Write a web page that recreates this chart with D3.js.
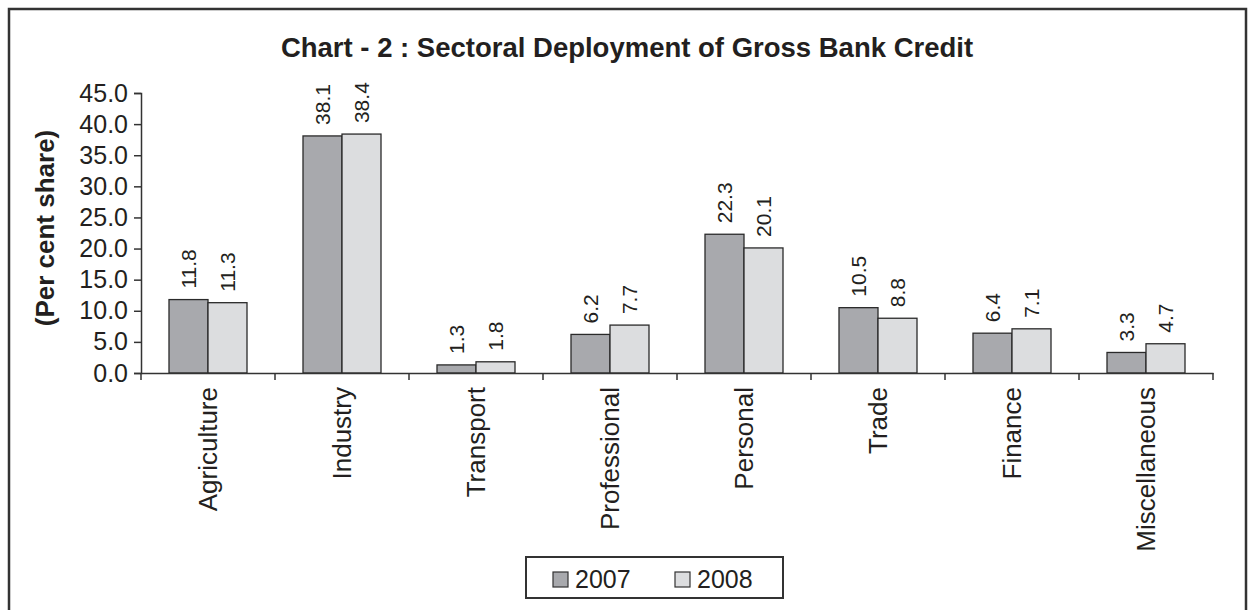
<!DOCTYPE html>
<head>
  <meta charset="utf-8">
  <script src="https://d3js.org/d3.v7.min.js"></script>
  <style>
    body { margin: 0; background: #fff; }
    svg { display: block; font-family: "Liberation Sans", Arial, sans-serif; }
  </style>
</head>
<body>
  <svg width="1250" height="610"></svg>
  <script>
    // data
    var categories = ["Agriculture", "Industry", "Transport", "Professional", "Personal", "Trade", "Finance", "Miscellaneous"];
    var series = ["2007", "2008"];
    var values2007 = [11.8, 38.1, 1.3, 6.2, 22.3, 10.5, 6.4, 3.3];
    var values2008 = [11.3, 38.4, 1.8, 7.7, 20.1, 8.8, 7.1, 4.7];
    var yTicks = [0, 5, 10, 15, 20, 25, 30, 35, 40, 45];
    var colors = {"2007": "#a8a9ad", "2008": "#dcdddf"};
    var ink = "#231f20";

    var rows = categories.map(function(c, i) {
      return {cat: c, vals: [{s: "2007", v: values2007[i]}, {s: "2008", v: values2008[i]}]};
    });

    // layout
    var margin = {top: 93, left: 141, right: 1213, bottom: 373};

    var svg = d3.select('svg');

    // outer frame
    svg.append('rect')
      .attr('x', 9).attr('y', 9)
      .attr('width', 1237).attr('height', 620)
      .attr('fill', 'none').attr('stroke', '#333').attr('stroke-width', 2.5);

    // title
    svg.append('text')
      .attr('x', 627).attr('y', 57)
      .attr('text-anchor', 'middle')
      .attr('font-weight', 'bold').attr('font-size', 27.5)
      .attr('fill', ink)
      .text('Chart - 2 : Sectoral Deployment of Gross Bank Credit');

    // scales
    var x = d3.scaleBand()
      .domain(categories)
      .range([margin.left, margin.right]);

    var xInner = d3.scaleBand()
      .domain(series)
      .range([28, x.bandwidth() - 28]);

    var y = d3.scaleLinear()
      .domain([0, 45])
      .range([margin.bottom, margin.top]);

    // bars
    var groups = svg.selectAll('g.cat')
      .data(rows)
      .enter().append('g')
      .attr('class', 'cat')
      .attr('transform', function(d) { return 'translate(' + x(d.cat) + ',0)'; });

    groups.selectAll('rect')
      .data(function(d) { return d.vals; })
      .enter().append('rect')
      .attr('x', function(d) { return xInner(d.s); })
      .attr('y', function(d) { return y(d.v); })
      .attr('width', xInner.bandwidth())
      .attr('height', function(d) { return y(0) - y(d.v); })
      .attr('fill', function(d) { return colors[d.s]; })
      .attr('stroke', '#2a2a2a')
      .attr('stroke-width', 1.3);

    // value labels
    groups.selectAll('text.val')
      .data(function(d) { return d.vals; })
      .enter().append('text')
      .attr('class', 'val')
      .attr('transform', function(d) {
        return 'translate(' + (xInner(d.s) + xInner.bandwidth() / 2) + ',' + (y(d.v) - 11) + ') rotate(-90)';
      })
      .attr('dy', '0.35em')
      .attr('font-size', 21)
      .attr('fill', ink)
      .text(function(d) { return d.v.toFixed(1); });

    // axes
    var yAxis = d3.axisLeft(y)
      .tickValues(yTicks)
      .tickSize(7)
      .tickPadding(6)
      .tickFormat(d3.format('.1f'));

    var yg = svg.append('g')
      .attr('transform', 'translate(' + margin.left + ',0)')
      .call(yAxis);
    yg.select('.domain').attr('stroke', '#333').attr('stroke-width', 1.5);
    yg.selectAll('.tick line').attr('stroke', '#333').attr('stroke-width', 1.5);
    yg.selectAll('.tick text')
      .attr('font-size', 25)
      .attr('font-family', '"Liberation Sans", Arial, sans-serif')
      .attr('fill', ink);

    var xAxis = d3.axisBottom(x)
      .tickSize(0)
      .tickFormat('');

    var xg = svg.append('g')
      .attr('transform', 'translate(0,' + margin.bottom + ')')
      .call(xAxis);
    xg.select('.domain').attr('stroke', '#333').attr('stroke-width', 1.5);

    // category boundary ticks
    xg.selectAll('line.sep')
      .data(categories.concat(['end']))
      .enter().append('line')
      .attr('class', 'sep')
      .attr('x1', function(d, i) { return margin.left + i * x.step(); })
      .attr('x2', function(d, i) { return margin.left + i * x.step(); })
      .attr('y1', 0).attr('y2', 7)
      .attr('stroke', '#333').attr('stroke-width', 1.5);

    // category labels
    svg.selectAll('text.cat')
      .data(categories)
      .enter().append('text')
      .attr('class', 'cat')
      .attr('transform', function(d) {
        return 'translate(' + (x(d) + x.bandwidth() / 2) + ',' + (margin.bottom + 14) + ') rotate(-90)';
      })
      .attr('dy', '0.35em')
      .attr('text-anchor', 'end')
      .attr('font-size', 26)
      .attr('fill', ink)
      .text(function(d) { return d; });

    // y axis title
    svg.append('text')
      .attr('transform', 'translate(45,228) rotate(-90)')
      .attr('dy', '0.35em')
      .attr('text-anchor', 'middle')
      .attr('font-weight', 'bold').attr('font-size', 26)
      .attr('fill', ink)
      .text('(Per cent share)');

    // legend
    var legend = svg.append('g');
    legend.append('rect')
      .attr('x', 526).attr('y', 557)
      .attr('width', 257).attr('height', 41)
      .attr('fill', '#fff').attr('stroke', '#333').attr('stroke-width', 2);

    var legendX = d3.scalePoint()
      .domain(series)
      .range([553, 675]);

    var items = legend.selectAll('g.item')
      .data(series)
      .enter().append('g')
      .attr('class', 'item')
      .attr('transform', function(d) { return 'translate(' + legendX(d) + ',572)'; });

    items.append('rect')
      .attr('width', 15).attr('height', 15)
      .attr('fill', function(d) { return colors[d]; })
      .attr('stroke', '#333').attr('stroke-width', 1.2);

    items.append('text')
      .attr('x', 22).attr('y', 16)
      .attr('font-size', 25)
      .attr('fill', ink)
      .text(function(d) { return d; });
  </script>
</body>
